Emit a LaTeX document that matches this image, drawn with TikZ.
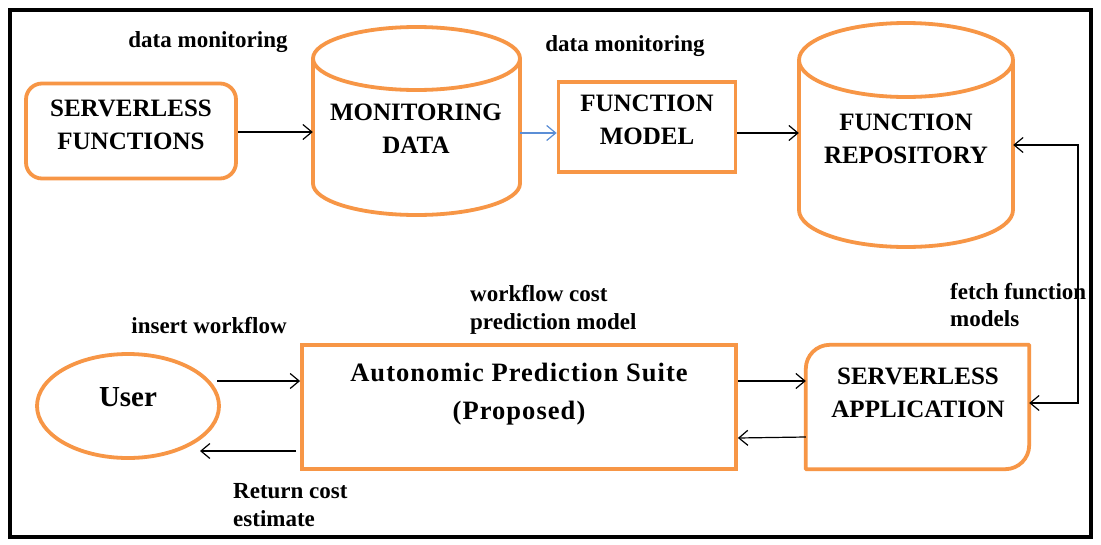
\documentclass[tikz,border=0pt]{standalone}
\usepackage{fontspec}
\setmainfont{Liberation Serif}
\usetikzlibrary{arrows.meta,shapes.geometric}
\definecolor{org}{HTML}{F79646}
\definecolor{lblue}{HTML}{5B8ED6}
\tikzset{
  obox/.style={draw=org, line width=3.8pt, inner sep=0pt},
  lbl/.style={font=\bfseries\fontsize{23}{27.5}\selectfont, align=left, inner sep=0pt},
  ntxt/.style={font=\bfseries\fontsize{25}{33}\selectfont, align=center, inner sep=0pt},
  conn/.style={line width=1.2pt, -{Straight Barb[length=9pt,width=15pt]}}
}
\begin{document}
\begin{tikzpicture}[x=1pt,y=-1pt]
\useasboundingbox (0,0) rectangle (1101,544);
\fill[white] (0,0) rectangle (1101,544);
% outer frame
\draw[line width=4.5pt] (10,10) rectangle (1091,537);

% SERVERLESS FUNCTIONS
\node[obox, rounded corners=16pt, minimum width=210pt, minimum height=95pt] (sf) at (131,131) {};
\node[ntxt] (sft) at (131,125) {SERVERLESS\\FUNCTIONS};

% MONITORING DATA cylinder
\node[draw=none, minimum width=207pt, minimum height=125pt, inner sep=0pt] (md) at (416.5,121) {};
\draw[draw=org, line width=3.8pt] (313,58.5) -- (313,183.5) arc[start angle=180, end angle=360, x radius=103.5pt, y radius=31.5pt] -- (520,58.5);
\draw[draw=org, line width=3.8pt] (416.5,58.5) ellipse [x radius=103.5pt, y radius=31.5pt];
\node[ntxt] (mdt) at (416,129) {MONITORING\\DATA};

% FUNCTION MODEL
\node[obox, minimum width=177pt, minimum height=90pt] (fm) at (647,127) {};
\node[ntxt] (fmt) at (647,120) {FUNCTION\\MODEL};

% FUNCTION REPOSITORY cylinder
\node[draw=none, minimum width=214pt, minimum height=150pt, inner sep=0pt] (fr) at (906,135) {};
\draw[draw=org, line width=3.8pt] (799,60) -- (799,210) arc[start angle=180, end angle=360, x radius=107pt, y radius=37pt] -- (1013,60);
\draw[draw=org, line width=3.8pt] (906,60) ellipse [x radius=107pt, y radius=37pt];
\node[ntxt] (frt) at (906,139) {FUNCTION\\REPOSITORY};

% User
\node[obox, ellipse, minimum width=182pt, minimum height=104pt] (user) at (128,406) {};
\node[ntxt, font=\bfseries\fontsize{29}{33}\selectfont] (usert) at (128,397) {User};

% Autonomic Prediction Suite
\node[obox, minimum width=434pt, minimum height=124pt] (aps) at (519,407) {};
\node[ntxt, font=\bfseries\fontsize{26.5}{38}\selectfont\addfontfeature{LetterSpace=4}] (apst) at (519,394) {Autonomic Prediction Suite\\(Proposed)};

% SERVERLESS APPLICATION (round diagonal corners)
\node[draw=none, minimum width=223pt, minimum height=124pt, inner sep=0pt] (sa) at (917.5,407) {};
\draw[draw=org, line width=3.8pt, line join=round]
  (sa.south west) -- ([yshift=-24pt]sa.north west)
  arc[start angle=180, end angle=90, radius=24pt]
  -- (sa.north east) -- ([yshift=24pt]sa.south east)
  arc[start angle=0, end angle=-90, radius=24pt]
  -- cycle;
\node[ntxt] (sat) at (918,393) {SERVERLESS\\APPLICATION};

% labels
\node[lbl] (l1) at (208,42) {data monitoring};
\node[lbl] (l2) at (625,46) {data monitoring};
\node[lbl, anchor=west] (l3) at (470,310) {workflow cost\\prediction model};
\node[lbl] (l4) at (209,326) {insert workflow};
\node[lbl, anchor=west] (l5) at (950,305) {fetch function\\models};
\node[lbl, anchor=west] (l6) at (233,505) {Return cost\\estimate};

% connectors
\coordinate (c1) at (1078,145);
\coordinate (c2) at (1078,403);
\draw[conn] (sf.east |- 0,132) -- (md.west |- 0,132);
\draw[conn, draw=lblue] (md.east |- 0,133) -- (fm.west |- 0,133);
\draw[conn] (fm.east |- 0,133) -- (fr.west |- 0,133);
\draw[line width=1.2pt, {Straight Barb[length=9pt,width=15pt]}-{Straight Barb[length=9pt,width=15pt]}] (fr.east |- c1) -- (c1) -- (c2) -- (sa.east |- c2);
\coordinate (u1) at (217,381);
\draw[conn] (u1) -- (aps.west |- u1);
\coordinate (u2) at (296,451);
\coordinate (u3) at (200,451);
\draw[conn] (u2) -- (u3);
\draw[conn] (aps.east |- 0,381) -- (sa.west |- 0,381);
\draw[conn] (sa.west |- 0,437) -- (aps.east |- 0,438);
\end{tikzpicture}
\end{document}
